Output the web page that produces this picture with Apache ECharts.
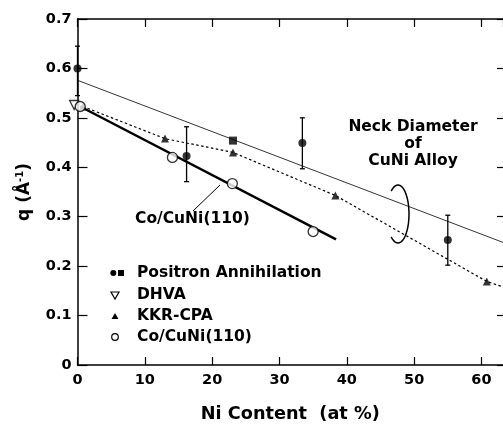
<!DOCTYPE html>
<html>
<head>
<meta charset="utf-8">
<script src="https://cdn.jsdelivr.net/npm/echarts@6/dist/echarts.min.js"></script>
<style>
html, body { margin: 0; padding: 0; background: #fff; }
#main { width: 503px; height: 428px; }
</style>
</head>
<body>
<div id="main"></div>
<script>
var font = '"DejaVu Sans", Verdana, sans-serif'

// Positron annihilation (filled circles with error bars)
var pos_x = [0, 16.2, 33.4, 55]
var pos_y = [0.6, 0.423, 0.449, 0.253]
var pos_lo = [0.545, 0.371, 0.397, 0.202]
var pos_hi = [0.645, 0.482, 0.5, 0.303]
// Positron annihilation (filled square)
var sq_x = [23.1]
var sq_y = [0.454]
// DHVA
var dhva_x = [-0.5]
var dhva_y = [0.526]
// KKR-CPA
var kkr_x = [0.8, 13, 23.1, 38.3, 60.8]
var kkr_y = [0.523, 0.458, 0.43, 0.343, 0.169]
var kkr_line_x = [0.8, 13, 23.1, 38.3, 60.8, 63.2]
var kkr_line_y = [0.523, 0.458, 0.43, 0.343, 0.169, 0.158]
// Co/CuNi(110)
var co_x = [0.4, 14.1, 23, 35]
var co_y = [0.523, 0.42, 0.367, 0.27]
var co_line_x = [0.4, 38.4]
var co_line_y = [0.523, 0.254]
// thin reference line
var thin_x = [0, 63.2]
var thin_y = [0.576, 0.248]

var x_ticks = [0, 10, 20, 30, 40, 50, 60]
var y_ticks = [0, 0.1, 0.2, 0.3, 0.4, 0.5, 0.6, 0.7]

function pairs(xs, ys) {
    var out = []
    for (var i = 0; i < xs.length; i++) out.push([xs[i], ys[i]])
    return out
}

var err_data = []
for (var i = 0; i < pos_x.length; i++) err_data.push([pos_x[i], pos_lo[i], pos_hi[i]])

var myChart = echarts.init(document.getElementById('main'))

var legend_rows = [
    { y: 273, text: 'Positron Annihilation' },
    { y: 294.5, text: 'DHVA' },
    { y: 316, text: 'KKR-CPA' },
    { y: 337, text: 'Co/CuNi(110)' }
]

var graphics = []
legend_rows.forEach(function (r) {
    graphics.push({
        type: 'text', x: 137, y: r.y,
        style: { text: r.text, font: 'bold 15.5px ' + font, fill: '#000', verticalAlign: 'middle' }
    })
})
graphics.push({ type: 'circle', shape: { cx: 113.3, cy: 273, r: 3 }, style: { fill: '#000' } })
graphics.push({ type: 'rect', shape: { x: 118, y: 270, width: 6, height: 6 }, style: { fill: '#000' } })
graphics.push({ type: 'polygon', shape: { points: [[111, 292], [119, 292], [115, 299]] },
    style: { fill: '#fff', stroke: '#000', lineWidth: 1.2 } })
graphics.push({ type: 'polygon', shape: { points: [[111.5, 319], [118.5, 319], [115, 313]] },
    style: { fill: '#000' } })
graphics.push({ type: 'circle', shape: { cx: 115, cy: 337, r: 3.3 },
    style: { fill: '#fff', stroke: '#000', lineWidth: 1.2 } })

// Co/CuNi label and leader
graphics.push({
    type: 'text', x: 135, y: 218.5,
    style: { text: 'Co/CuNi(110)', font: 'bold 15.5px ' + font, fill: '#000', verticalAlign: 'middle' }
})
graphics.push({ type: 'line', shape: { x1: 193, y1: 211, x2: 220, y2: 185 },
    style: { stroke: '#000', lineWidth: 1 } })

// Neck diameter annotation
graphics.push({
    type: 'text', x: 413, y: 118,
    style: { text: 'Neck Diameter\nof\nCuNi Alloy', font: 'bold 15.5px ' + font, fill: '#000',
        align: 'center', lineHeight: 17 }
})
var loop = []
for (var a = -128; a <= 128; a += 4) {
    var t = a * Math.PI / 180
    loop.push([398 + 11 * Math.cos(t), 214 + 29 * Math.sin(t)])
}
graphics.push({ type: 'polyline', shape: { points: loop, smooth: 0 },
    style: { stroke: '#000', lineWidth: 1.5, fill: null } })

var option = {
    animation: false,
    backgroundColor: '#fff',
    grid: { left: 77.5, right: 0, top: 19, bottom: 62 },
    xAxis: [
        {
            type: 'value', min: 0, max: 63.2, interval: 10,
            name: 'Ni Content  (at %)', nameLocation: 'middle', nameGap: 40,
            nameTextStyle: { fontFamily: font, fontWeight: 'bold', fontSize: 17.7, color: '#000' },
            axisLine: { onZero: false, lineStyle: { color: '#000', width: 1.5 } },
            axisTick: { inside: true, length: 8, lineStyle: { color: '#000', width: 1.2 } },
            axisLabel: {
                fontFamily: font, fontWeight: 'bold', fontSize: 14.5, color: '#000', margin: 8,
                showMaxLabel: false,
                formatter: function (v) { return x_ticks.indexOf(v) >= 0 ? String(v) : '' }
            },
            splitLine: { show: false }
        },
        {
            type: 'value', min: 0, max: 63.2, interval: 10, position: 'top',
            axisLine: { show: true, onZero: false, lineStyle: { color: '#000', width: 1.5 } },
            axisTick: { inside: true, length: 8, lineStyle: { color: '#000', width: 1.2 } },
            axisLabel: { show: false },
            splitLine: { show: false }
        }
    ],
    yAxis: [
        {
            type: 'value', min: 0, max: 0.7, interval: 0.1,
            name: '{q|q (Å}{sup|-1}{q|)}', nameLocation: 'middle', nameGap: 44, nameRotate: 90,
            nameTextStyle: {
                rich: {
                    q: { fontFamily: font, fontWeight: 'bold', fontSize: 17, color: '#000' },
                    sup: { fontFamily: font, fontWeight: 'bold', fontSize: 10, color: '#000',
                        verticalAlign: 'top', padding: [0, 0, 8, 0] }
                }
            },
            axisLine: { onZero: false, lineStyle: { color: '#000', width: 1.5 } },
            axisTick: { inside: true, length: 10, lineStyle: { color: '#000', width: 1.2 } },
            axisLabel: {
                fontFamily: font, fontWeight: 'bold', fontSize: 14.5, color: '#000', margin: 6,
                formatter: function (v) { return v === 0 ? '0' : v.toFixed(1) }
            },
            splitLine: { show: false }
        },
        {
            type: 'value', min: 0, max: 0.7, interval: 0.1, position: 'right',
            axisLine: { show: false, onZero: false },
            axisTick: { show: true, inside: true, length: 6, lineStyle: { color: '#000', width: 1.2 } },
            axisLabel: { show: false },
            splitLine: { show: false }
        }
    ],
    graphic: graphics,
    series: [
        {
            type: 'line', data: pairs(thin_x, thin_y), showSymbol: false,
            lineStyle: { color: '#000', width: 0.8 }, z: 2
        },
        {
            type: 'line', data: pairs(kkr_line_x, kkr_line_y), showSymbol: false,
            lineStyle: { color: '#000', width: 1.2, type: [2.5, 2.5] }, z: 2
        },
        {
            type: 'line', data: pairs(co_line_x, co_line_y), showSymbol: false,
            lineStyle: { color: '#000', width: 2.5 }, z: 2
        },
        {
            type: 'custom', data: err_data, clip: false, z: 3,
            renderItem: function (params, api) {
                var top = api.coord([api.value(0), api.value(2)])
                var bot = api.coord([api.value(0), api.value(1)])
                var c = 2.5
                return {
                    type: 'group',
                    children: [
                        { type: 'line', shape: { x1: top[0], y1: top[1], x2: bot[0], y2: bot[1] },
                            style: { stroke: '#000', lineWidth: 1.3 } },
                        { type: 'line', shape: { x1: top[0] - c, y1: top[1], x2: top[0] + c, y2: top[1] },
                            style: { stroke: '#000', lineWidth: 1.3 } },
                        { type: 'line', shape: { x1: bot[0] - c, y1: bot[1], x2: bot[0] + c, y2: bot[1] },
                            style: { stroke: '#000', lineWidth: 1.3 } }
                    ]
                }
            }
        },
        {
            type: 'scatter', data: pairs(dhva_x, dhva_y), clip: false, symbol: 'triangle',
            symbolRotate: 180, symbolSize: 9, z: 4,
            itemStyle: { color: '#fff', borderColor: '#000', borderWidth: 1.3 }
        },
        {
            type: 'scatter', data: pairs(kkr_x, kkr_y), clip: false, symbol: 'triangle',
            symbolSize: 8, z: 4, itemStyle: { color: '#000' }
        },
        {
            type: 'scatter', data: pairs(co_x, co_y), clip: false, symbol: 'circle',
            symbolSize: 10, z: 5,
            itemStyle: { color: '#fff', borderColor: '#000', borderWidth: 1.3 }
        },
        {
            type: 'scatter', data: pairs(pos_x, pos_y), clip: false, symbol: 'circle',
            symbolSize: 8, z: 5, itemStyle: { color: '#000' }
        },
        {
            type: 'scatter', data: pairs(sq_x, sq_y), clip: false, symbol: 'rect',
            symbolSize: 8, z: 5, itemStyle: { color: '#000' }
        }
    ]
}

myChart.setOption(option)
</script>
</body>
</html>
